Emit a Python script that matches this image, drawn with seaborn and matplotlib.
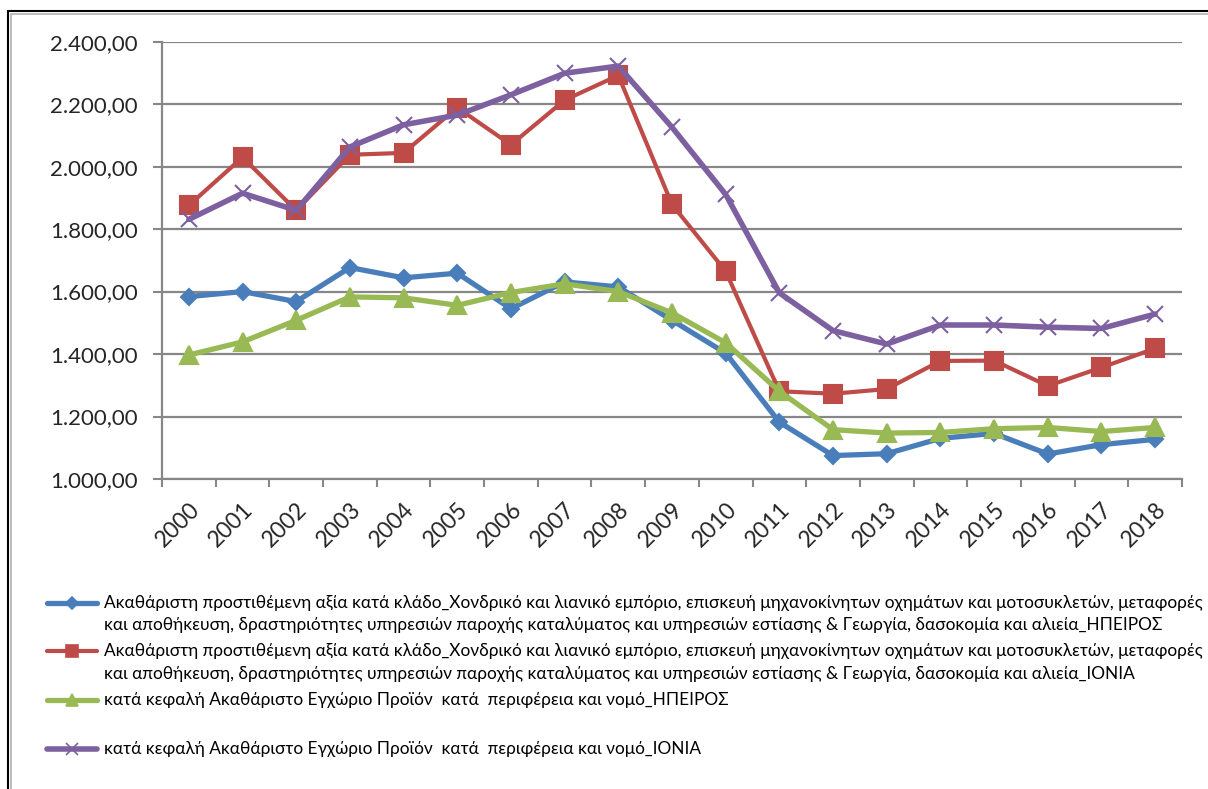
import numpy as np
import pandas as pd
import seaborn as sns
import matplotlib.pyplot as plt
from matplotlib.lines import Line2D
from matplotlib.patches import Rectangle
from matplotlib.ticker import FuncFormatter, FixedLocator


# -----------------------------
# DATA
# -----------------------------
years = list(range(2000, 2019))

gva_ipeiros = [1584, 1600, 1568, 1677, 1644, 1659, 1545, 1631, 1615, 1508,
               1403, 1182, 1075, 1081, 1130, 1146, 1080, 1110, 1127]
gva_ionia = [1876, 2030, 1860, 2038, 2044, 2189, 2070, 2213, 2292, 1879,
             1665, 1281, 1273, 1288, 1378, 1379, 1298, 1357, 1418]
gdp_pc_ipeiros = [1397, 1439, 1508, 1583, 1580, 1556, 1597, 1625, 1600, 1532,
                  1436, 1281, 1158, 1147, 1149, 1161, 1165, 1152, 1165]
gdp_pc_ionia = [1831, 1915, 1860, 2063, 2134, 2165, 2230, 2299, 2322, 2126,
                1911, 1596, 1475, 1432, 1493, 1493, 1486, 1482, 1528]

label_gva_ipeiros = [
    "Ακαθάριστη προστιθέμενη αξία κατά κλάδο_Χονδρικό και λιανικό εμπόριο, επισκευή μηχανοκίνητων οχημάτων και μοτοσυκλετών, μεταφορές",
    "και αποθήκευση, δραστηριότητες υπηρεσιών παροχής καταλύματος και υπηρεσιών εστίασης & Γεωργία, δασοκομία και αλιεία_ΗΠΕΙΡΟΣ",
]
label_gva_ionia = [
    "Ακαθάριστη προστιθέμενη αξία κατά κλάδο_Χονδρικό και λιανικό εμπόριο, επισκευή μηχανοκίνητων οχημάτων και μοτοσυκλετών, μεταφορές",
    "και αποθήκευση, δραστηριότητες υπηρεσιών παροχής καταλύματος και υπηρεσιών εστίασης & Γεωργία, δασοκομία και αλιεία_ΙΟΝΙΑ",
]
label_gdp_pc_ipeiros = ["κατά κεφαλή Ακαθάριστο Εγχώριο Προϊόν  κατά  περιφέρεια και νομό_ΗΠΕΙΡΟΣ"]
label_gdp_pc_ionia = ["κατά κεφαλή Ακαθάριστο Εγχώριο Προϊόν  κατά  περιφέρεια και νομό_ΙΟΝΙΑ"]


# -----------------------------
# STYLE
# -----------------------------
W, H = 1208, 789
sns.set_style("white")
plt.rcParams["font.family"] = ["Lato", "Noto Sans", "DejaVu Sans"]
GRID = "#878787"

series = [
    # values, labels, color, marker, markersize, linewidth, legend markersize
    (gva_ipeiros, label_gva_ipeiros, "#4A7EBB", "D", 8.5, 3.8, 6),
    (gva_ionia, label_gva_ionia, "#BE4B48", "s", 13, 3.0, 8),
    (gdp_pc_ipeiros, label_gdp_pc_ipeiros, "#98B954", "^", 13, 3.8, 8),
    (gdp_pc_ionia, label_gdp_pc_ionia, "#7D60A0", "x", 12, 4.0, 8),
]

fig = plt.figure(figsize=(W / 100, H / 100), dpi=100)
ax = fig.add_axes([162 / W, 1 - 479 / H, (1182 - 162) / W, (479 - 41.7) / H])

for vals, labels, color, marker, ms, lw, _ in series:
    sns.lineplot(x=years, y=vals, ax=ax, color=color, linewidth=lw,
                 marker=marker, markersize=ms, markeredgecolor=color,
                 markeredgewidth=1.5, legend=False)

# -----------------------------
# AXES
# -----------------------------
ax.set_xlim(1999.5, 2018.5)
ax.set_ylim(1000, 2400)
ax.set_yticks(np.arange(1000, 2401, 200))
ax.yaxis.set_major_formatter(FuncFormatter(
    lambda v, p: f"{v:,.2f}".replace(",", "X").replace(".", ",").replace("X", ".")))
ax.grid(axis="y", color=GRID, linewidth=1.6)
ax.set_axisbelow(True)

ax.set_xticks(years)
ax.set_xticklabels([str(y) for y in years], rotation=45, ha="right",
                   rotation_mode="anchor", fontsize=16.5)
ax.xaxis.set_minor_locator(FixedLocator(np.arange(1999.5, 2019, 1)))
ax.tick_params(axis="x", which="major", length=0, pad=14)
ax.tick_params(axis="x", which="minor", length=5.5, width=1.5, color=GRID,
               direction="out", bottom=True)
ax.tick_params(axis="y", length=6.5, width=1.5, color=GRID, pad=11,
               labelsize=16, left=True)
ax.set_xlabel("")
ax.set_ylabel("")

for side in ["top", "right"]:
    ax.spines[side].set_visible(False)
for side in ["left", "bottom"]:
    ax.spines[side].set_color(GRID)
    ax.spines[side].set_linewidth(1.6)

# -----------------------------
# LEGEND (drawn by hand, Excel style)
# -----------------------------
rows = [(603, 625), (651, 674), (700,), (749,)]
for (vals, labels, color, marker, ms, lw, lms), ys in zip(series, rows):
    yf = 1 - ys[0] / H
    fig.add_artist(Line2D([47 / W, 72 / W, 97 / W], [yf, yf, yf],
                          transform=fig.transFigure, color=color, linewidth=lw,
                          marker=marker, markersize=lms, markevery=[1],
                          markeredgecolor=color, markeredgewidth=1.2))
    for text, y in zip(labels, ys):
        fig.text(104 / W, 1 - y / H, text, fontsize=12.4, va="center",
                 ha="left", color="black")

# outer chart frame
fig.add_artist(Rectangle((8 / W, -0.05), 1.2, 1 - 11 / H + 0.05,
                         transform=fig.transFigure, fill=False,
                         edgecolor="black", linewidth=1.5))
fig.add_artist(Rectangle((11 / W, -0.05), 1.2, 1 - 14 / H + 0.05,
                         transform=fig.transFigure, fill=False,
                         edgecolor="#B0B0B0", linewidth=1.2))

fig.savefig("out.png", dpi=100)
